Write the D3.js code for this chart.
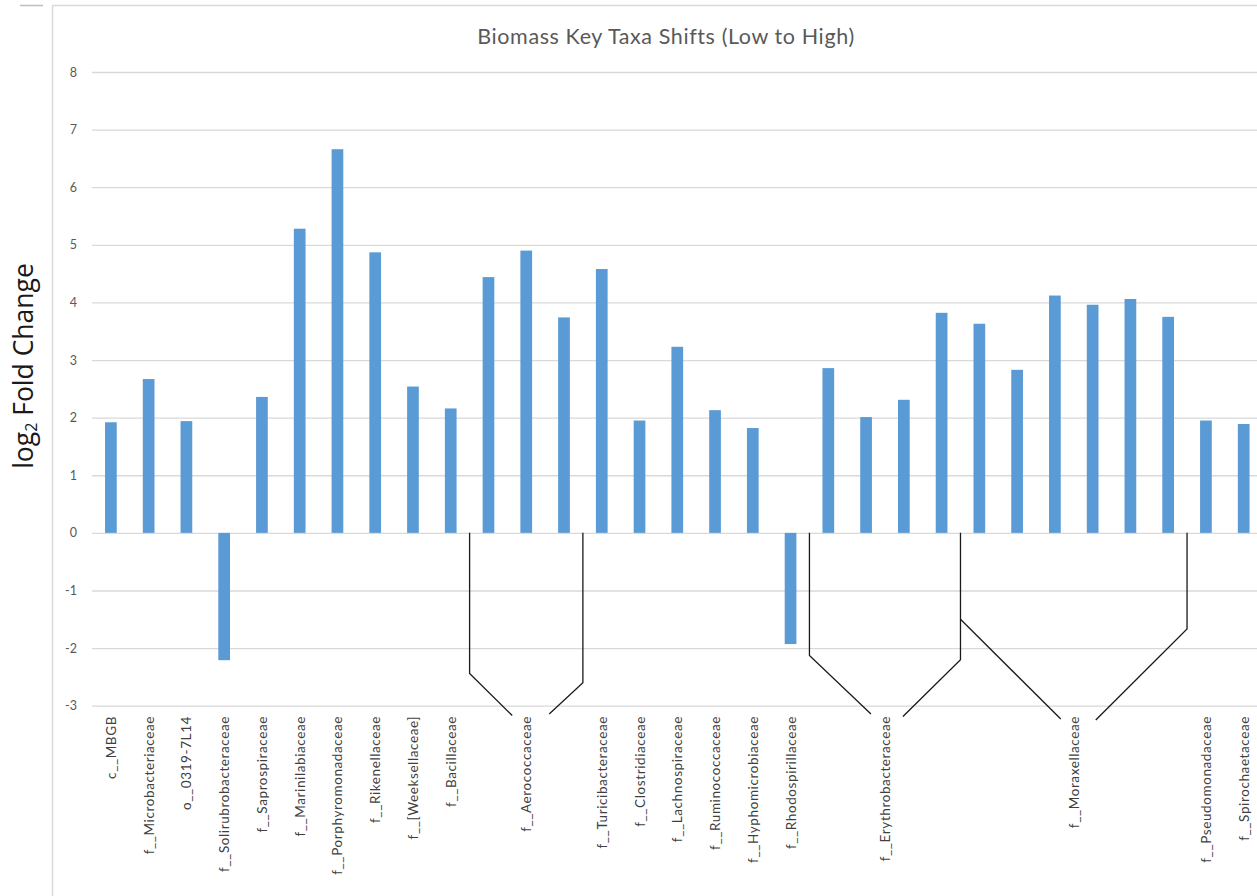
<!DOCTYPE html>
<html>
<head>
<meta charset="utf-8">
<script src="https://cdn.jsdelivr.net/npm/d3@7/dist/d3.min.js"></script>
<style>
  html, body { margin: 0; padding: 0; background: #ffffff; }
  svg { display: block; font-family: Lato, "Open Sans", sans-serif; }
</style>
</head>
<body>
<svg id="chart" width="1257" height="896"></svg>
<script>
// Taxa in plotting order (one bar each)
const taxa = [
  "c__MBGB", "f__Microbacteriaceae", "o__0319-7L14", "f__Solirubrobacteraceae",
  "f__Saprospiraceae", "f__Marinilabiaceae", "f__Porphyromonadaceae", "f__Rikenellaceae",
  "f__[Weeksellaceae]", "f__Bacillaceae",
  "f__Aerococcaceae 1", "f__Aerococcaceae 2", "f__Aerococcaceae 3",
  "f__Turicibacteraceae", "f__Clostridiaceae", "f__Lachnospiraceae", "f__Ruminococcaceae",
  "f__Hyphomicrobiaceae", "f__Rhodospirillaceae",
  "f__Erythrobacteraceae 1", "f__Erythrobacteraceae 2", "f__Erythrobacteraceae 3", "f__Erythrobacteraceae 4",
  "f__Moraxellaceae 1", "f__Moraxellaceae 2", "f__Moraxellaceae 3",
  "f__Moraxellaceae 4", "f__Moraxellaceae 5", "f__Moraxellaceae 6",
  "f__Pseudomonadaceae", "f__Spirochaetaceae"
];

// log2 fold change per taxon
const log2FC = [
  1.92, 2.67, 1.94, -2.21,
  2.36, 5.28, 6.66, 4.87,
  2.54, 2.16,
  4.44, 4.90, 3.74,
  4.58, 1.95, 3.23, 2.13,
  1.82, -1.93,
  2.86, 2.01, 2.31, 3.82,
  3.63, 2.83, 4.12,
  3.96, 4.06, 3.75,
  1.95, 1.89
];

// Axis labels: single taxa get their own label, grouped taxa share one
const axisLabels = [
  "c__MBGB", "f__Microbacteriaceae", "o__0319-7L14", "f__Solirubrobacteraceae",
  "f__Saprospiraceae", "f__Marinilabiaceae", "f__Porphyromonadaceae", "f__Rikenellaceae",
  "f__[Weeksellaceae]", "f__Bacillaceae",
  "f__Aerococcaceae", "f__Turicibacteraceae", "f__Clostridiaceae", "f__Lachnospiraceae",
  "f__Ruminococcaceae", "f__Hyphomicrobiaceae", "f__Rhodospirillaceae",
  "f__Erythrobacteraceae", "f__Moraxellaceae", "f__Pseudomonadaceae", "f__Spirochaetaceae"
];
// first and last bar index covered by each label
const labelStart = [0,1,2,3,4,5,6,7,8,9,10,13,14,15,16,17,18,19,23,29,30];
const labelEnd   = [0,1,2,3,4,5,6,7,8,9,12,13,14,15,16,17,18,22,28,29,30];

const yTicks = [8, 7, 6, 5, 4, 3, 2, 1, 0, -1, -2, -3];

const title = "Biomass Key Taxa Shifts (Low to High)";

// ---------------------------------------------------------------
const svg = d3.select("#chart");

const plotLeft = 92;
const step = 37.76;

const x = d3.scaleBand()
  .domain(taxa)
  .range([plotLeft, plotLeft + step * taxa.length])
  .paddingInner(0.69)
  .paddingOuter(0.345);

const y = d3.scaleLinear().domain([-3, 8]).range([705.7, 72]);

// frame
svg.append("line").attr("x1", 52).attr("x2", 1257).attr("y1", 5.5).attr("y2", 5.5)
  .attr("stroke", "#d9d9d9").attr("stroke-width", 1.5);
svg.append("line").attr("x1", 20).attr("x2", 43).attr("y1", 5.5).attr("y2", 5.5)
  .attr("stroke", "#bfbfbf").attr("stroke-width", 1.5);
svg.append("line").attr("x1", 52.5).attr("x2", 52.5).attr("y1", 5).attr("y2", 896)
  .attr("stroke", "#d9d9d9").attr("stroke-width", 1.5);

// gridlines + y tick labels via axis
const yAxis = d3.axisLeft(y).tickValues(yTicks).tickSize(-(1257 - plotLeft)).tickPadding(15)
  .tickFormat(d => String(d));
const gy = svg.append("g").attr("transform", `translate(${plotLeft},0)`).call(yAxis);
gy.select(".domain").remove();
gy.selectAll(".tick line").attr("stroke", "#d9d9d9").attr("stroke-width", 1.3);
gy.selectAll(".tick text").attr("fill", "#595959").style("font-size", "12.5px")
  .style("font-family", "Lato, sans-serif");

// bars
svg.append("g").selectAll("rect")
  .data(taxa.map((t, i) => ({ t, v: log2FC[i] })))
  .join("rect")
  .attr("x", d => x(d.t))
  .attr("width", x.bandwidth())
  .attr("y", d => y(Math.max(0, d.v)))
  .attr("height", d => Math.abs(y(d.v) - y(0)))
  .attr("fill", "#5b9bd5");

// category labels (rotated, reading bottom-to-top)
const labelTop = 716;
const centerOf = i => x(taxa[i]) + x.bandwidth() / 2;
svg.append("g").selectAll("text")
  .data(axisLabels.map((l, i) => ({ l, cx: (centerOf(labelStart[i]) + centerOf(labelEnd[i])) / 2 })))
  .join("text")
  .attr("transform", d => `translate(${d.cx + 5},${labelTop}) rotate(-90)`)
  .attr("text-anchor", "end")
  .attr("fill", "#404040")
  .style("font-size", "13.5px")
  .style("letter-spacing", "0.6px")
  .text(d => d.l);

// group brackets
const boundary = i => x(taxa[i]) - (x.step() - x.bandwidth()) / 2; // left edge of band i
const bracketColor = "#1a1a1a";
const line = d3.line();
const brackets = [
  // Aerococcaceae
  [[boundary(10), y(0)], [boundary(10), y(-2.44)], [centerOf(11) - 14, 715.5]],
  [[boundary(13), y(0)], [boundary(13), y(-2.6)], [centerOf(11) + 23, 714]],
  // Erythrobacteraceae
  [[boundary(19), y(0)], [boundary(19), y(-2.13)], [(centerOf(20) + centerOf(21)) / 2 - 14, 714]],
  [[boundary(23), y(0)], [boundary(23), y(-2.2)], [(centerOf(20) + centerOf(21)) / 2 + 18, 716.5]],
  // Moraxellaceae
  [[boundary(23), y(-1.5)], [(centerOf(25) + centerOf(26)) / 2 - 13, 719]],
  [[boundary(29), y(0)], [boundary(29), y(-1.67)], [(centerOf(25) + centerOf(26)) / 2 + 22, 720]]
];
svg.append("g").selectAll("path")
  .data(brackets)
  .join("path")
  .attr("d", d => line(d))
  .attr("fill", "none")
  .attr("stroke", bracketColor)
  .attr("stroke-width", 1.3);

// title
svg.append("text")
  .attr("x", 666).attr("y", 44)
  .attr("text-anchor", "middle")
  .attr("fill", "#595959")
  .style("font-size", "21.5px")
  .style("letter-spacing", "0.6px")
  .text(title);

// y-axis title
const yt = svg.append("text")
  .attr("transform", "translate(33,366) rotate(-90)")
  .attr("text-anchor", "middle")
  .attr("fill", "#1a1a1a")
  .style("font-family", "'Open Sans', sans-serif")
  .style("font-size", "26.5px");
yt.append("tspan").text("log");
yt.append("tspan").text("2").style("font-size", "16px").attr("dy", 4);
yt.append("tspan").text(" Fold Change").attr("dy", -4);
</script>
</body>
</html>
